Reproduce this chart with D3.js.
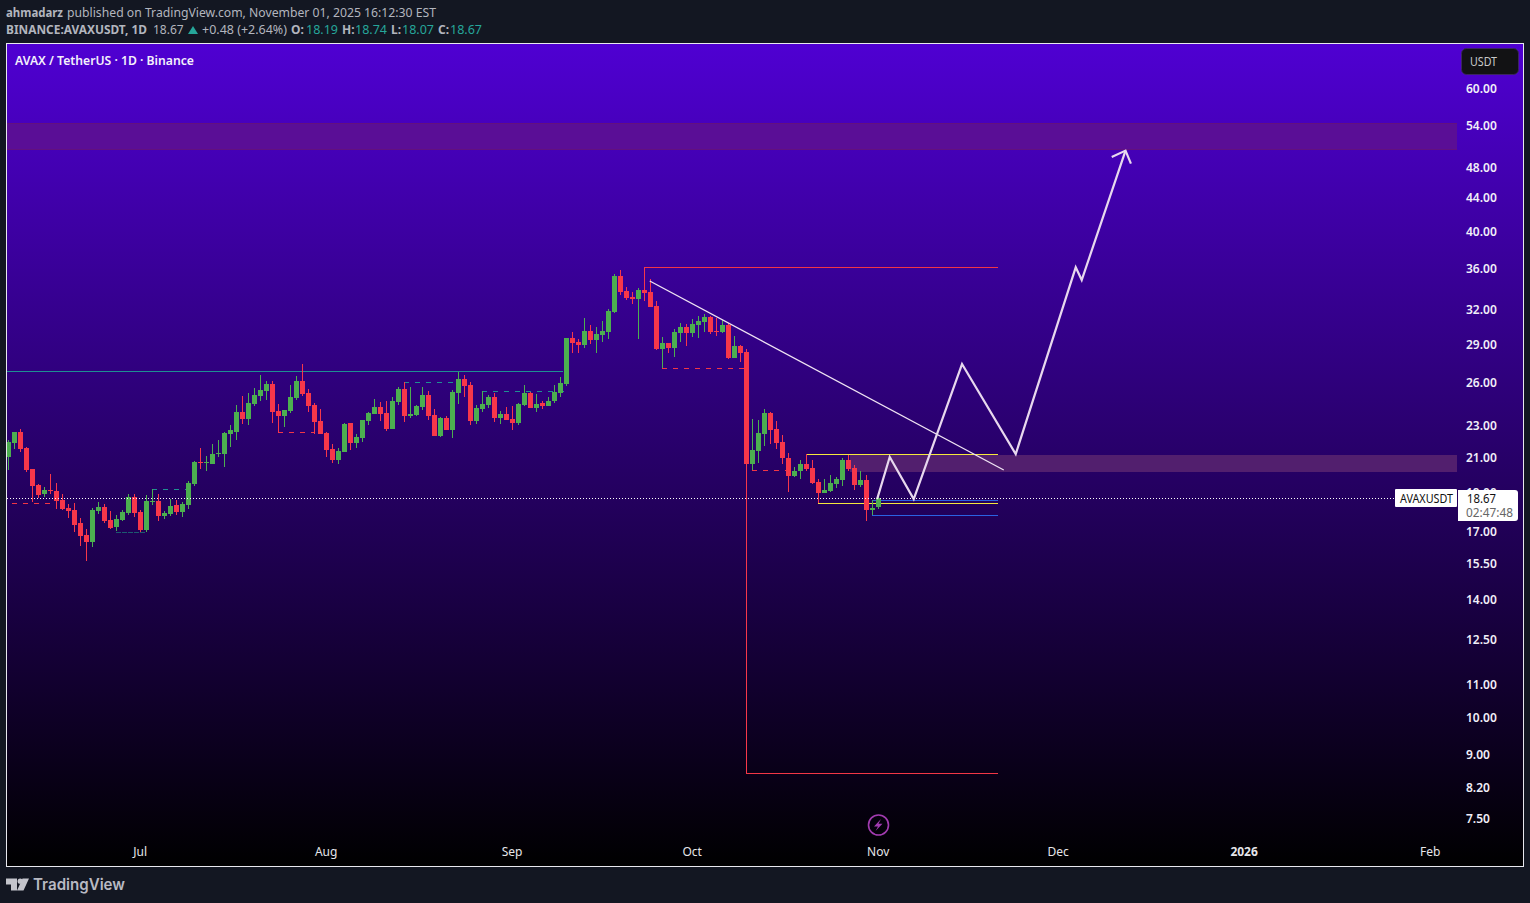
<!DOCTYPE html>
<html><head><meta charset="utf-8">
<script src="https://cdn.jsdelivr.net/npm/d3@7/dist/d3.min.js"></script>
<style>
html,body{margin:0;padding:0;background:#131722;overflow:hidden}
svg{display:block}
text{font-family:"Noto Sans",sans-serif}
</style></head><body>
<svg id="c" width="1530" height="903"></svg>
<script>
const firstDay = Date.UTC(2025,5,9);
const opens = [20.97,21.82,22.51,21.51,20.27,19.36,18.87,19.09,19.04,18.55,18.13,18.03,17.37,16.79,16.46,17.98,18.18,17.52,17.18,17.52,17.88,18.71,17.93,17.03,18.45,18.50,17.72,17.83,18.29,17.93,18.29,19.42,20.67,20.61,20.55,21.15,21.15,22.38,22.51,23.84,23.37,24.39,24.95,25.31,25.82,23.90,23.57,23.90,
24.81,26.04,25.17,24.32,23.23,22.45,21.45,20.79,21.27,23.10,21.82,22.14,23.23,23.70,24.18,23.77,22.70,24.53,25.46,23.57,23.63,24.18,25.02,23.63,22.26,23.43,22.64,25.17,26.18,25.75,23.23,24.04,24.32,24.88,23.43,23.70,23.37,23.10,24.32,25.17,24.11,24.46,24.25,24.60,25.17,
25.82,29.43,29.09,28.85,30.03,29.26,29.69,29.94,31.70,35.12,33.65,33.09,32.90,33.75,33.56,32.25,28.52,29.01,28.60,29.86,30.37,29.86,30.54,30.80,31.25,30.03,29.94,30.54,27.80,28.77,28.28,
20.56,21.33,22.39,23.77,22.70,21.89,20.91,19.87,20.15,20.56,20.32,19.53,18.93,19.04,19.42,19.64,20.79,20.32,19.36,19.64,18.03,18.19];
const highs = [22.01,22.51,22.70,21.57,20.27,19.42,19.25,19.98,19.47,18.87,18.34,18.39,17.62,17.08,18.13,18.45,18.34,17.98,17.78,18.03,18.87,18.87,18.03,18.82,19.14,18.87,17.98,18.60,18.55,18.45,19.58,20.73,21.51,21.03,21.76,22.01,22.51,22.97,24.32,24.95,25.17,25.53,26.49,26.04,26.04,24.39,23.97,25.75,
26.41,27.33,25.46,24.46,24.04,22.51,21.76,21.51,23.10,23.10,22.39,23.30,23.84,24.74,24.53,24.60,24.88,25.60,25.96,25.60,24.32,25.60,25.31,24.04,23.50,23.57,25.38,26.72,26.49,25.96,24.32,25.31,25.02,25.17,23.90,24.18,24.25,24.46,25.75,25.24,25.10,24.60,24.88,25.75,26.34,
29.43,29.94,29.35,31.16,30.54,30.37,30.89,31.97,35.32,35.72,34.04,33.56,33.94,36.00,34.82,32.71,29.51,29.01,30.20,30.72,30.63,31.07,31.34,31.52,31.34,31.16,30.98,30.72,29.60,28.85,28.52,
23.37,23.30,24.04,23.84,23.23,22.32,21.21,20.38,20.79,21.15,20.79,19.70,19.70,19.93,19.81,20.91,21.09,20.50,20.15,19.93,18.55,18.74];
const lows = [20.21,21.45,21.27,20.10,18.45,18.66,18.71,18.87,18.08,18.03,17.62,16.93,16.27,15.60,16.23,17.83,17.37,17.08,16.98,17.47,17.78,17.67,16.93,16.93,18.29,17.47,17.57,17.72,17.78,17.67,18.08,19.31,20.27,20.15,20.55,20.97,20.38,21.57,22.01,23.04,22.97,24.25,24.60,24.67,23.10,22.45,22.84,23.77,
24.67,24.95,23.84,22.39,22.39,20.97,20.61,20.55,21.27,21.39,21.51,21.89,22.97,23.70,23.23,22.58,22.70,24.32,23.17,23.43,23.57,23.97,23.30,22.26,22.20,22.64,22.14,24.39,24.88,22.97,23.04,23.84,24.11,23.17,23.04,23.30,22.64,22.97,24.25,24.11,23.84,24.04,24.25,24.46,24.88,
25.67,28.20,28.20,28.60,28.93,28.20,29.09,29.35,31.61,33.28,32.80,32.43,29.35,32.71,32.16,28.44,27.02,28.20,27.88,29.09,28.77,29.51,29.43,29.94,29.77,29.60,29.86,27.72,27.80,27.48,8.52,
20.21,20.61,21.64,21.76,21.45,20.55,18.98,19.81,19.70,20.15,19.42,18.39,18.93,18.98,19.20,19.31,20.15,19.09,19.25,17.47,17.78,18.07];
const closes = [21.89,22.51,21.45,20.21,19.31,18.82,19.09,19.04,18.50,18.08,17.98,17.27,16.74,16.46,18.03,18.18,17.47,17.13,17.57,17.93,18.71,17.88,17.03,18.50,18.50,17.72,17.88,18.24,17.93,18.34,19.47,20.67,20.61,20.67,21.15,21.21,22.45,22.64,23.84,23.37,24.46,25.02,25.38,25.82,23.84,23.57,23.97,24.88,
26.04,25.10,24.25,23.17,22.39,21.39,20.79,21.33,23.04,21.82,22.20,23.30,23.77,24.18,23.70,22.70,24.60,25.46,23.57,23.70,24.25,25.02,23.57,22.26,23.43,22.64,25.24,26.18,25.67,23.23,24.11,24.39,24.88,23.43,23.70,23.30,23.10,24.39,25.17,24.11,24.39,24.25,24.60,25.24,25.89,
29.43,29.01,28.85,30.03,29.26,29.77,30.03,31.79,35.12,33.56,32.99,32.90,33.75,33.47,32.16,28.52,29.01,28.60,29.94,30.37,29.86,30.63,30.89,31.25,29.94,29.94,30.54,27.80,28.77,28.20,20.56,
21.39,22.45,23.77,22.64,21.82,20.91,19.87,20.15,20.56,20.27,19.47,18.93,19.09,19.47,19.70,20.79,20.27,19.36,19.64,18.03,18.13,18.67];

const priceTicks = [60,54,48,44,40,36,32,29,26,23,21,19,17,15.5,14,12.5,11,10,9,8.2,7.5];
const monthTicks = [Date.UTC(2025,6,1),Date.UTC(2025,7,1),Date.UTC(2025,8,1),Date.UTC(2025,9,1),Date.UTC(2025,10,1),Date.UTC(2025,11,1),Date.UTC(2026,0,1),Date.UTC(2026,1,1)];
const monthLabels = ["Jul","Aug","Sep","Oct","Nov","Dec","2026","Feb"];

// horizontal levels: [first bar, last bar, price]
const tealSolid   = [[-1.3,92.5,26.77]];
const redSolid    = [[106,165,36.00],[123,165,8.52]];
const yellowSolid = [[133,165,21.15],[135,165,18.39]];
const blueSolid   = [[144,165,18.55],[144,165,17.73]];
const redDashed   = [[-1.3,8,18.39],[45,51,22.49],[109,123,27.00],[124,130,20.20]];
const tealDashed  = [[24,30,19.13],[66,75,25.94],[79,93,25.29]];
const darkDashed  = [[18,23,16.93]];
// zones: [first bar, price top, price bottom]
const zoneUpper = [-1.3,54.3,50.4];
const zoneLower = [140.3,21.09,20.15];
// drawn forecast: bar numbers and prices
const pathBars   = [144.8,146.9,150.9,158.95,167.9,177.9,178.9,186.2];
const pathPrices = [18.60,20.97,18.60,27.33,21.15,36.00,34.72,50.20];
const headBars   = [183.9,186.2,187.1];
const headPrices = [49.30,50.20,48.37];
const trendBars   = [106.9,165.9];
const trendPrices = [34.62,20.21];

const svg = d3.select("#c");
const dayMs = 864e5;
const x = d3.scaleUtc().domain([firstDay, firstDay+145*dayMs]).range([8.33,878.33]);
const y = d3.scaleLog().domain([60,7.5]).range([88,818]);
const bx = i => x(firstDay+i*dayMs);
const PANE = {l:7,t:44,r:1523,b:866,plotR:1457};

const defs = svg.append("defs");
const g = defs.append("linearGradient").attr("id","bg").attr("x1",0).attr("y1",0).attr("x2",0).attr("y2",1);
g.append("stop").attr("offset",0).attr("stop-color","#4f00d2");
g.append("stop").attr("offset",1).attr("stop-color","#000000");
defs.append("clipPath").attr("id","plot").append("rect").attr("x",PANE.l).attr("y",PANE.t).attr("width",PANE.plotR-PANE.l).attr("height",PANE.b-PANE.t);

svg.append("rect").attr("x",6.5).attr("y",43.5).attr("width",1517).attr("height",823).attr("fill","url(#bg)").attr("stroke","#e8e8ee").attr("stroke-width",1);

const plot = svg.append("g").attr("clip-path","url(#plot)");

function zone(z,fill,stroke){
  const yt=Math.round(y(z[1])), yb=Math.round(y(z[2]));
  plot.append("rect").attr("x",bx(z[0])).attr("y",yt).attr("width",PANE.plotR-bx(z[0])).attr("height",yb-yt)
    .attr("fill",fill).attr("stroke",stroke).attr("stroke-width",1).attr("shape-rendering","crispEdges");
}
zone(zoneUpper,"#5a0e96","#63107f");
zone(zoneLower,"#521f6e","#521f6e");

function levels(list,color,dash){
  plot.selectAll(null).data(list).join("line")
    .attr("x1",d=>bx(d[0])).attr("x2",d=>bx(d[1]))
    .attr("y1",d=>Math.floor(y(d[2]))+.5).attr("y2",d=>Math.floor(y(d[2]))+.5)
    .attr("stroke",color).attr("stroke-width",1).attr("stroke-dasharray",dash||null)
    .attr("shape-rendering","crispEdges");
}
levels(tealSolid,"#1f8f92");
levels(redSolid,"#f23645");
levels(yellowSolid,"#f5e83c");
levels(blueSolid,"#2b62e3");
levels(redDashed,"#f23645","5,6");
levels(tealDashed,"#1f8f92","5,6");
levels(darkDashed,"#1c5a70","5,1");

const bars = d3.range(closes.length);
const colr = i => closes[i]>=opens[i] ? "#4caf50" : "#f7374a";
plot.append("g").selectAll("rect").data(bars).join("rect")
  .attr("x",i=>Math.floor(bx(i))).attr("width",1)
  .attr("y",i=>Math.round(y(highs[i]))).attr("height",i=>Math.max(1,Math.round(y(lows[i]))-Math.round(y(highs[i]))))
  .attr("fill",colr).attr("shape-rendering","crispEdges");
plot.append("g").selectAll("rect").data(bars).join("rect")
  .attr("x",i=>Math.floor(bx(i))-2).attr("width",5)
  .attr("y",i=>Math.round(y(Math.max(opens[i],closes[i])))).attr("height",i=>Math.max(1,Math.round(y(Math.min(opens[i],closes[i])))-Math.round(y(Math.max(opens[i],closes[i])))))
  .attr("fill",colr).attr("shape-rendering","crispEdges");

const line = d3.line().x(d=>bx(d[0])).y(d=>y(d[1]));
plot.append("path").attr("d",line(trendBars.map((b,i)=>[b,trendPrices[i]]))).attr("fill","none").attr("stroke","#f1e4f4").attr("stroke-width",1.3);
plot.append("path").attr("d",line(pathBars.map((b,i)=>[b,pathPrices[i]]))).attr("fill","none").attr("stroke","#e8d8ee").attr("stroke-width",2.2);
plot.append("path").attr("d",line(headBars.map((b,i)=>[b,headPrices[i]]))).attr("fill","none").attr("stroke","#e8d8ee").attr("stroke-width",2.2);

// last price dotted line
const lastY = Math.round(y(closes[closes.length-1]))+.5;
svg.append("line").attr("x1",7).attr("x2",1395).attr("y1",lastY).attr("y2",lastY).attr("stroke","#fff").attr("stroke-width",1).attr("stroke-dasharray","1,2").attr("shape-rendering","crispEdges");

// axes
const yAxis = d3.axisRight(y).tickValues(priceTicks).tickSize(0).tickPadding(0).tickFormat(d3.format(".2f"));
const ya = svg.append("g").attr("transform","translate(1466,1)").call(yAxis);
ya.select(".domain").remove();
ya.selectAll("text").attr("fill","#f0eef8").attr("font-size",12).attr("font-weight",600).style("font-family",'"Noto Sans",sans-serif');
const xAxis = d3.axisBottom(x).tickValues(monthTicks).tickSize(0).tickPadding(0).tickFormat((d,i)=>monthLabels[i]);
const xa = svg.append("g").attr("transform","translate(-0.7,847.5)").call(xAxis);
xa.select(".domain").remove();
xa.selectAll("text").attr("fill","#e6e6ea").attr("font-size",12).attr("font-weight",(d,i)=>monthLabels[i]==="2026"?700:400).style("font-family",'"Noto Sans",sans-serif');

function t(px,py,s,opt={}){
  const el = svg.append("text").attr("x",px).attr("y",py).text(s)
   .attr("font-size",opt.size||12).attr("font-weight",opt.w||400).attr("fill",opt.c||"#b2b5be").attr("text-anchor",opt.a||"start");
  if(opt.len) el.attr("textLength",opt.len).attr("lengthAdjust","spacingAndGlyphs");
  return el;
}
// header
t(6,17,"ahmadarz",{w:700,len:57});
t(67,17,"published on TradingView.com, November 01, 2025 16:12:30 EST",{len:369});
t(6,34,"BINANCE:AVAXUSDT, 1D",{w:700,len:141});
t(153,34,"18.67");
svg.append("path").attr("d",d3.line()([[188,34],[198,34],[193,26]])+"Z").attr("fill","#26a69a");
t(202,34,"+0.48 (+2.64%)",{len:85});
[[291,"O:",306,"18.19"],[342,"H:",355,"18.74"],[391,"L:",402,"18.07"],[438,"C:",450,"18.67"]].forEach(a=>{
  t(a[0],34,a[1],{w:700}); t(a[2],34,a[3],{c:"#26a69a",len:32});
});
t(15,65,"AVAX / TetherUS · 1D · Binance",{c:"#f4f0fb",w:600,len:179});

// USDT button
svg.append("rect").attr("x",1461.5).attr("y",48.5).attr("width",57).attr("height",26).attr("rx",5).attr("fill","#121214").attr("stroke","#3b2560");
t(1470,66,"USDT",{c:"#c8c8c8",len:27});

// price labels
svg.append("rect").attr("x",1395).attr("y",489).attr("width",62).attr("height",18).attr("rx",1).attr("fill","#fff");
t(1400,503,"AVAXUSDT",{c:"#111",len:53});
svg.append("path").attr("d","M1458 490H1515a3 3 0 0 1 3 3V518a3 3 0 0 1 -3 3H1458Z").attr("fill","#fff");
t(1467,503,"18.67",{c:"#111",len:29});
t(1466,517,"02:47:48",{c:"#666",len:47});

// lightning marker
svg.append("circle").attr("cx",878.5).attr("cy",825).attr("r",10).attr("fill","none").attr("stroke","#a23bb0").attr("stroke-width",1.6);
svg.append("path").attr("d","M881 819L874 826.5H878L875.5 831L882.5 823.8H878.5Z").attr("fill","#a23bb0");

// logo
svg.append("path").attr("d","M6 878.5H17V890.5H11V884.5H6Z M29 878.5L23.5 890.5H17L22.5 878.5Z").attr("fill","#c4c5cc");
svg.append("circle").attr("cx",20.2).attr("cy",881.2).attr("r",2.6).attr("fill","#c4c5cc");
svg.append("text").attr("x",33).attr("y",890).text("TradingView").attr("font-size",16).attr("font-weight",600).attr("fill","#b8bac2").style("font-family","Inter,sans-serif").attr("textLength",92).attr("lengthAdjust","spacingAndGlyphs");
</script></body></html>
